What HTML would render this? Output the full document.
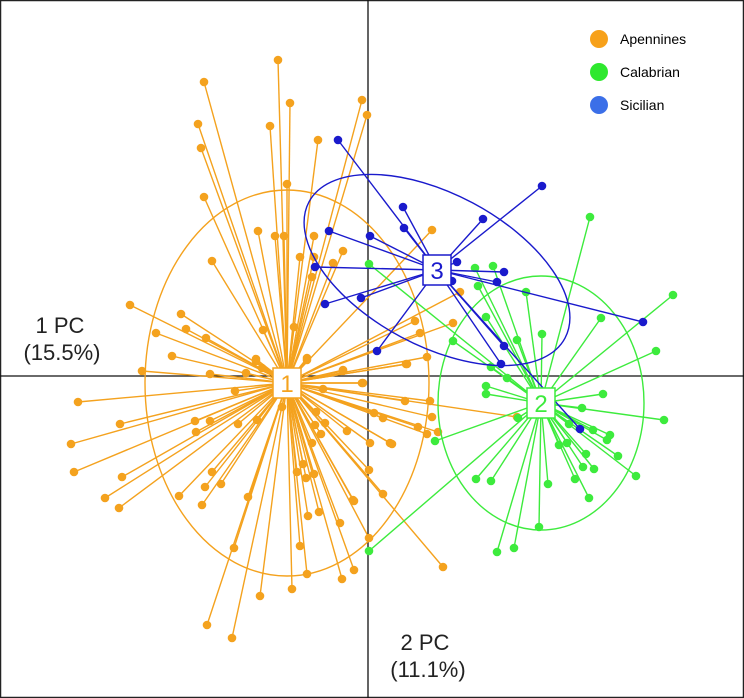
<!DOCTYPE html>
<html><head><meta charset="utf-8"><style>
html,body{margin:0;padding:0;background:#fff;}
svg{display:block;font-family:"Liberation Sans",Arial,sans-serif;}
</style></head><body>
<svg id="chart" width="744" height="698" viewBox="0 0 744 698" xmlns="http://www.w3.org/2000/svg">
<rect x="0.5" y="0.5" width="743" height="697" fill="#fff" stroke="#222" stroke-width="1.5"/>
<line x1="0" y1="376" x2="744" y2="376" stroke="#111" stroke-width="1.3"/>
<line x1="368" y1="0" x2="368" y2="698" stroke="#111" stroke-width="1.3"/>
<g id="marks"></g>
<g>
<circle cx="599" cy="39" r="9" fill="#F7A11A"/>
<text x="620" y="44" font-size="14">Apennines</text>
<circle cx="599" cy="72" r="9" fill="#2EE82E"/>
<text x="620" y="77" font-size="14">Calabrian</text>
<circle cx="599" cy="105" r="9" fill="#3B6FE8"/>
<text x="620" y="110" font-size="14">Sicilian</text>
</g>
<text x="60" y="333" font-size="22" text-anchor="middle" fill="#222">1 PC</text>
<text x="62" y="360" font-size="22" text-anchor="middle" fill="#222">(15.5%)</text>
<text x="425" y="650" font-size="22" text-anchor="middle" fill="#222">2 PC</text>
<text x="428" y="677" font-size="22" text-anchor="middle" fill="#222">(11.1%)</text>
</svg>
<script>
const apenninesX=[-90,-164,-78,-6,-1,-170,-98,-50,-167,-81,-164,-110,-93,-84,-54,-25,-68,-54,-35,-156,-56,-238,-187,-182,-212,-162,-105,-74,-196,-112,-61,64,92,85,47,52,59,38,-25,-5,37,62,64,70,50,59,22,2,1,-15,15,-28,1,149,-226,-158,-122,-112,-106,-61,-25,39,-6,-45,-133,-290,-248,-173,-158,-172,-130,-111,-86,-52,-53,-43,-47,-21,-56,6,15,24,-297,-294,-246,-263,-249,-189,-166,-163,-156,-147,-120,-71,-65,-62,-54,-60,-49,-14,-134,-68,-61,-26,-14,-76,-108,-161,-136,75];
const apenninesY=[316,294,273,276,261,252,250,236,228,192,179,145,140,140,140,125,119,119,113,115,99,71,62,47,43,38,46,49,20,17,18,146,84,53,55,43,19,12,6,-7,-25,-25,-41,-56,-51,-58,-67,-67,-94,-124,-118,-147,-162,-41,5,2,3,15,8,16,5,12,-7,-13,-15,-26,-48,-45,-45,-56,-48,-44,-31,-36,-49,-47,-58,-55,-67,-37,-42,-68,-68,-96,-101,-122,-132,-120,-129,-111,-96,-108,-121,-96,-88,-102,-98,-140,-136,-125,-172,-170,-198,-203,-194,-213,-220,-249,-262,-191];
const calabrianX=[1,107,125,110,158,222,305,233,288,118,85,149,174,123,139,118,118,235,214,296,150,67,201,225,242,239,191,199,218,250,215,226,268,108,123,180,207,221,171,146,129,1];
const calabrianY=[112,108,110,90,84,159,81,58,25,59,35,36,42,9,-2,-10,-18,-18,-32,-44,-42,-65,-48,-54,-59,-64,-69,-67,-78,-80,-91,-93,-100,-103,-105,-108,-103,-122,-151,-172,-176,-175];
const sicilianX=[-30,174,35,36,115,-39,2,89,136,-53,129,-43,-7,275,9,136,133,212,84];
const sicilianY=[236,190,169,148,157,145,140,114,104,109,94,72,78,54,25,30,12,-53,95];
const groupNames=["Apennines","Calabrian","Sicilian"];
const groupLabels=["1","2","3"];
const centroidX=[-81,173,69];
const centroidY=[-7,-27,106];
const ellipseRx=[142,103,145];
const ellipseRy=[193,127,76];
const ellipseAngle=[0,0,28];
const colors=["#F4A21E","#3DEB3D","#1A1ACC"];

const X0=368,Y0=376;
function xs(v){return X0+v;}
function ys(v){return Y0-v;}
const NS="http://www.w3.org/2000/svg";
const g=document.getElementById('marks');
function mk(t,a){const e=document.createElementNS(NS,t);for(const k in a)e.setAttribute(k,a[k]);return e;}
const groups=[[apenninesX,apenninesY],[calabrianX,calabrianY],[sicilianX,sicilianY]];
const slugs=["apennines","calabrian","sicilian"];
groups.forEach((gr,i)=>{
  const sg=mk('g',{});
  
  
  const cx=xs(centroidX[i]),cy=ys(centroidY[i]);
  const el=mk('ellipse',{cx:cx,cy:cy,rx:ellipseRx[i],ry:ellipseRy[i],fill:'none',stroke:colors[i],'stroke-width':1.4,transform:'rotate('+ellipseAngle[i]+' '+cx+' '+cy+')'});
  
  
  sg.appendChild(el);
  for(let j=0;j<gr[0].length;j++){
    const px=xs(gr[0][j]),py=ys(gr[1][j]);
    const ln=mk('line',{x1:cx,y1:cy,x2:px,y2:py,stroke:colors[i],'stroke-width':1.4});
    
    
    sg.appendChild(ln);
    const c=mk('circle',{cx:px,cy:py,r:4.3,fill:colors[i]});
    
    
    sg.appendChild(c);
  }
  g.appendChild(sg);
});
groups.forEach((gr,i)=>{
  const cx=xs(centroidX[i]),cy=ys(centroidY[i]);
  const b=mk('rect',{x:cx-14,y:cy-15,width:28,height:30,fill:'#fff',stroke:colors[i],'stroke-width':1.5});
  
  
  g.appendChild(b);
  const t=mk('text',{x:cx,y:cy+9,'font-size':24,'text-anchor':'middle',fill:colors[i]});
  t.textContent=groupLabels[i];
  
  
  g.appendChild(t);
});
</script>
</body></html>
